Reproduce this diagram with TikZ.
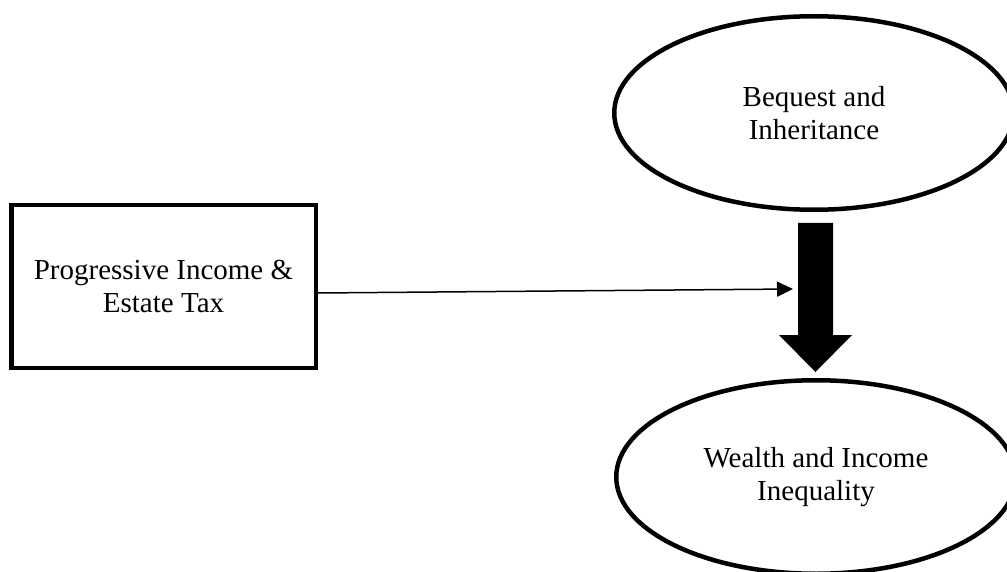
\documentclass[tikz,border=0pt]{standalone}
\usepackage{fontspec}
\setmainfont{Liberation Serif}
\usetikzlibrary{shapes.geometric,arrows.meta}
\tikzset{
  boxnode/.style={draw, line width=4.5pt, rectangle, minimum width=304.5pt, minimum height=162.5pt, inner sep=0pt, align=center, font=\fontsize{29pt}{33pt}\selectfont},
  ovalnode/.style={draw, line width=4.5pt, ellipse, minimum width=399.5pt, minimum height=193.5pt, inner sep=0pt, align=center, font=\fontsize{29pt}{33pt}\selectfont},
  thinarrow/.style={line width=1.5pt, -{Triangle[length=16pt,width=15pt]}},
  blockarrow/.style={fill=black}
}
\begin{document}
\begin{tikzpicture}[x=1pt,y=-1pt]
\useasboundingbox (0,0) rectangle (1007,572);
\node[boxnode] (box) at (163.5,286.5) {Progressive Income \&\\Estate Tax};
\node[ovalnode] (bq) at (814,113) {Bequest and\\Inheritance};
\node[ovalnode] (wi) at (816,477) {Wealth and Income\\Inequality};
\coordinate (hit) at (793,289);
\draw[thinarrow] ([yshift=-6.5pt]box.east) -- (hit);
\fill[blockarrow] (798,223) -- (833,223) -- (833,335) -- (852,335) -- (815.5,372) -- (779,335) -- (798,335) -- cycle;
\end{tikzpicture}
\end{document}
